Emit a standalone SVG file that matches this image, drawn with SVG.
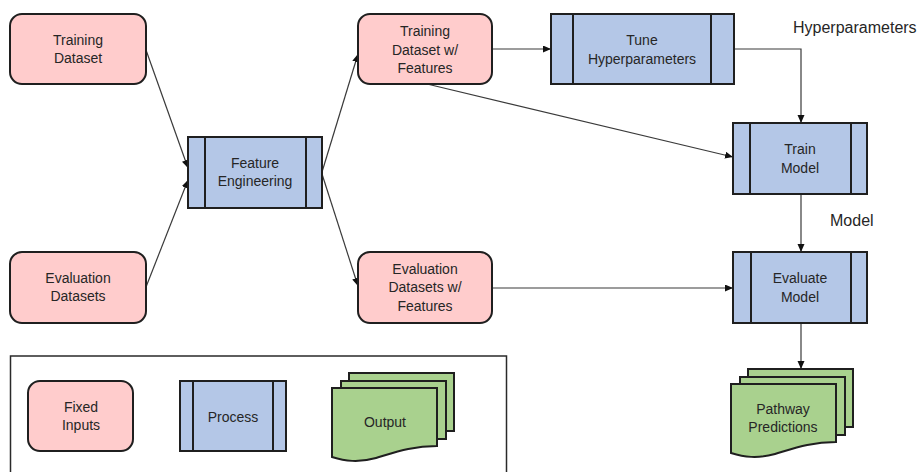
<svg xmlns="http://www.w3.org/2000/svg" xmlns:xlink="http://www.w3.org/1999/xlink" width="917" height="472" viewBox="0 0 917 472">
<style>
.inp{fill:#FFCCCC;stroke:#1f1f1f;stroke-width:2}
.proc{fill:#B4C7E7;stroke:#1f1f1f;stroke-width:2}
.bar{stroke:#1f1f1f;stroke-width:2;fill:none}
.out{fill:#A9D18E;stroke:#1f1f1f;stroke-width:2;stroke-linejoin:miter}
.t{font-family:"Liberation Sans",Arial,sans-serif;font-size:14px;fill:#262626;text-anchor:middle}
.lbl{font-family:"Liberation Sans",Arial,sans-serif;font-size:16px;fill:#262626}
.c{fill:none;stroke:#3a3a3a;stroke-width:1.2}
</style>
<defs>
<marker id="ah" markerUnits="userSpaceOnUse" markerWidth="9" markerHeight="8" refX="8" refY="3.5" orient="auto">
<path d="M0,0 L8,3.5 L0,7 Z" fill="#111"/>
</marker>
<g id="multidoc">
<rect x="349" y="373" width="105" height="58" class="out"/>
<rect x="341" y="381" width="105" height="58" class="out"/>
<path class="out" d="M332,388 H437 V446 C412,446 396,452 376,458 C358,463 345,461 332,457 Z"/>
</g>
</defs>
<rect width="917" height="472" fill="#fff"/>

<g id="connectors">
<path class="c" d="M146,50 L188,168" marker-end="url(#ah)"/>
<path class="c" d="M146,287 L188,180" marker-end="url(#ah)"/>
<path class="c" d="M322,172 L358,54" marker-end="url(#ah)"/>
<path class="c" d="M322,174 L358,286" marker-end="url(#ah)"/>
<path class="c" d="M492,49 L551,49" marker-end="url(#ah)"/>
<path class="c" d="M427,84 L733,157" marker-end="url(#ah)"/>
<path class="c" d="M734,49 H801 V123" marker-end="url(#ah)"/>
<path class="c" d="M492,288 H733" marker-end="url(#ah)"/>
<path class="c" d="M801,194 V252" marker-end="url(#ah)"/>
<path class="c" d="M801,323 V369" marker-end="url(#ah)"/>
</g>

<g id="training-dataset">
<rect class="inp" x="10" y="14" width="136" height="70" rx="12"/>
<text class="t" x="78" y="45">Training</text>
<text class="t" x="78" y="63">Dataset</text>
</g>

<g id="evaluation-datasets">
<rect class="inp" x="10" y="252" width="136" height="71" rx="12"/>
<text class="t" x="78" y="283">Evaluation</text>
<text class="t" x="78" y="301">Datasets</text>
</g>

<g id="feature-engineering">
<rect class="proc" x="188" y="137" width="134" height="71"/>
<line class="bar" x1="205" y1="137" x2="205" y2="208"/>
<line class="bar" x1="306" y1="137" x2="306" y2="208"/>
<text class="t" x="255" y="168">Feature</text>
<text class="t" x="255" y="186">Engineering</text>
</g>

<g id="training-dataset-features">
<rect class="inp" x="358" y="14" width="134" height="70" rx="12"/>
<text class="t" x="425" y="36">Training</text>
<text class="t" x="425" y="55">Dataset w/</text>
<text class="t" x="425" y="73">Features</text>
</g>

<g id="evaluation-datasets-features">
<rect class="inp" x="358" y="252" width="134" height="71" rx="12"/>
<text class="t" x="425" y="274">Evaluation</text>
<text class="t" x="425" y="292">Datasets w/</text>
<text class="t" x="425" y="311">Features</text>
</g>

<g id="tune-hyperparameters">
<rect class="proc" x="551" y="14" width="183" height="70"/>
<line class="bar" x1="573" y1="14" x2="573" y2="84"/>
<line class="bar" x1="711" y1="14" x2="711" y2="84"/>
<text class="t" x="642" y="45">Tune</text>
<text class="t" x="642" y="64">Hyperparameters</text>
</g>

<g id="train-model">
<rect class="proc" x="733" y="123" width="134" height="71"/>
<line class="bar" x1="750" y1="123" x2="750" y2="194"/>
<line class="bar" x1="851" y1="123" x2="851" y2="194"/>
<text class="t" x="800" y="154">Train</text>
<text class="t" x="800" y="173">Model</text>
</g>

<g id="evaluate-model">
<rect class="proc" x="733" y="252" width="134" height="71"/>
<line class="bar" x1="751" y1="252" x2="751" y2="323"/>
<line class="bar" x1="851" y1="252" x2="851" y2="323"/>
<text class="t" x="800" y="283">Evaluate</text>
<text class="t" x="800" y="302">Model</text>
</g>

<g id="pathway-predictions">
<use xlink:href="#multidoc" transform="translate(399,-4)"/>
<text class="t" x="783" y="414">Pathway</text>
<text class="t" x="783" y="432">Predictions</text>
</g>

<g id="label-hyperparameters">
<text class="lbl" x="793" y="33">Hyperparameters</text>
</g>
<g id="label-model">
<text class="lbl" x="830" y="226">Model</text>
</g>

<g id="legend">
<rect x="10.5" y="356" width="496" height="130" fill="#fff" stroke="#2a2a2a" stroke-width="1.5"/>
<g id="legend-fixed-inputs">
<rect class="inp" x="28" y="381" width="105" height="70" rx="12"/>
<text class="t" x="81" y="412">Fixed</text>
<text class="t" x="81" y="430">Inputs</text>
</g>
<g id="legend-process">
<rect class="proc" x="180" y="381" width="106" height="70"/>
<line class="bar" x1="193" y1="381" x2="193" y2="451"/>
<line class="bar" x1="273" y1="381" x2="273" y2="451"/>
<text class="t" x="233" y="422">Process</text>
</g>
<g id="legend-output">
<use xlink:href="#multidoc"/>
<text class="t" x="385" y="427">Output</text>
</g>
</g>
</svg>
